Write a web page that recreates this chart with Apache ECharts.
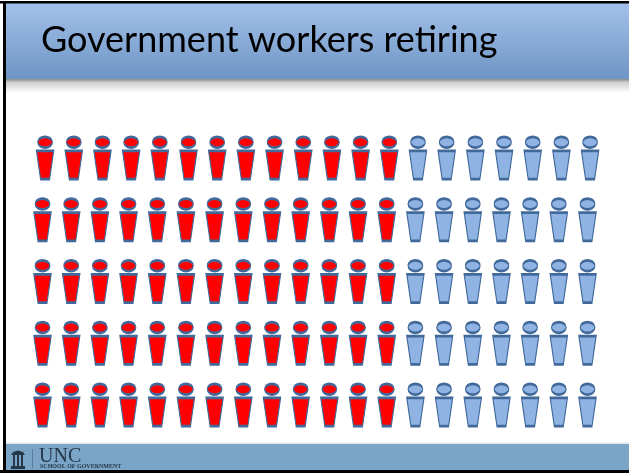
<!DOCTYPE html>
<html><head><meta charset="utf-8">
<style>html,body{margin:0;padding:0;background:#fff}#c{width:629px;height:473px}</style>
<script src="https://cdn.jsdelivr.net/npm/echarts@6/dist/echarts.min.js"></script>
</head><body><div id="c"></div>
<script>
const titleText = "Government workers retiring";
const rows = [0, 1, 2, 3, 4];
const retiringPerRow = [13, 13, 13, 13, 13];
const otherPerRow = [7, 7, 7, 7, 7];
const rowShift = [0.09, 0, 0, 0, 0];
const personPath = "path://M2.2 6.2C2.2 3.18 5.46 0.8 9.5 0.8C13.54 0.8 16.8 3.18 16.8 6.2C16.8 9.22 13.54 11.6 9.5 11.6C5.46 11.6 2.2 9.22 2.2 6.2ZM0.9 14.8L18.1 14.8L14 43.2L5 43.2Z";

const retiring = [], other = [];
rows.forEach((r, i) => {
  const n = retiringPerRow[i], m = otherPerRow[i];
  for (let k = 0; k < n; k++) retiring.push([k + rowShift[i], r]);
  for (let k = 0; k < m; k++) other.push([n + k + rowShift[i], r]);
});

const person = (name, data, color) => ({
  type: "scatter", name, data, symbol: personPath, symbolSize: [17.2, 42.4], symbolKeepAspect: false,
  itemStyle: { color, borderColor: "#41699a", borderWidth: 1.7, opacity: 1 },
  clip: false, silent: true, animation: false, z: 5
});

const ink = "#24384a";
const chart = echarts.init(document.getElementById("c"), null, { renderer: "canvas" });
chart.setOption({
  animation: false,
  backgroundColor: "#fff",
  grid: { left: 42.5, top: 158, width: 545, height: 247 },
  xAxis: { type: "value", min: 0, max: 19, show: false },
  yAxis: { type: "value", min: 0, max: 4, inverse: true, show: false },
  title: {
    text: titleText, left: 36, top: 17, z: 10,
    textStyle: { fontFamily: "Lato", fontWeight: "normal", fontSize: 36, color: "#000" }
  },
  series: [person("Retiring", retiring, "#ff0000"), person("Not retiring", other, "#8fb3e3")],
  graphic: [
    { type: "rect", z: 0, shape: { x: 6, y: 79, width: 623, height: 14 },
      style: { fill: new echarts.graphic.LinearGradient(0, 0, 0, 1, [
        { offset: 0, color: "#8c8c8c" }, { offset: 0.25, color: "#d0d0d0" }, { offset: 1, color: "#ffffff" }]) } },
    { type: "rect", z: 1, shape: { x: 6, y: 3, width: 623, height: 76 },
      style: { fill: new echarts.graphic.LinearGradient(0, 0, 0, 1, [
        { offset: 0, color: "#a3c1ea" }, { offset: 1, color: "#6f95c4" }]) } },
    { type: "rect", z: 1, shape: { x: 6, y: 444, width: 623, height: 27 }, style: { fill: "#7aa5c6" } },
    { type: "rect", z: 1, shape: { x: 6, y: 442.5, width: 623, height: 1.5 }, style: { fill: "#dfe8ef" } },
    { type: "rect", z: 20, shape: { x: 0, y: 1, width: 629, height: 2.5 }, style: { fill: "#000" } },
    { type: "rect", z: 20, shape: { x: 0, y: 470, width: 629, height: 3 }, style: { fill: "#000" } },
    { type: "rect", z: 20, shape: { x: 3, y: 1, width: 3, height: 472 }, style: { fill: "#000" } },
    // logo
    { type: "rect", z: 3, shape: { x: 32, y: 449, width: 1, height: 19 }, style: { fill: "#5b7d99" } },
    { type: "polygon", z: 3, shape: { points: [[11, 455], [13, 452], [18, 450.5], [23, 452], [25, 455]] }, style: { fill: ink } },
    { type: "rect", z: 3, shape: { x: 13, y: 455, width: 2, height: 12 }, style: { fill: ink } },
    { type: "rect", z: 3, shape: { x: 17, y: 455, width: 2, height: 12 }, style: { fill: ink } },
    { type: "rect", z: 3, shape: { x: 21, y: 455, width: 2, height: 12 }, style: { fill: ink } },
    { type: "rect", z: 3, shape: { x: 11, y: 466, width: 14, height: 3 }, style: { fill: ink } },
    { type: "text", z: 3, left: 39, top: 447, style: { text: "UNC", fontFamily: "Liberation Serif", fontSize: 20, fill: ink } },
    { type: "text", z: 3, left: 40, top: 463, style: { text: "SCHOOL OF GOVERNMENT", fontFamily: "Liberation Serif", fontWeight: "bold", fontSize: 6, fill: ink } }
  ]
});
</script></body></html>
